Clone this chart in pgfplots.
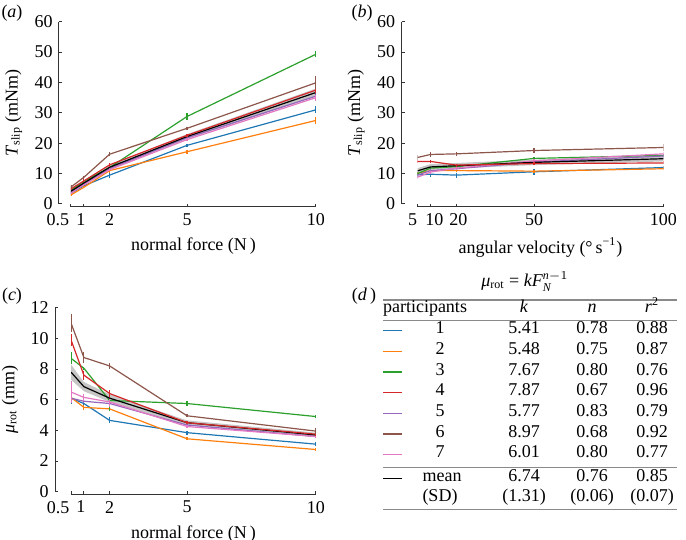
\documentclass[border=0pt]{standalone}
\usepackage{pgfplots}
\pgfplotsset{compat=1.18}
\usepackage{fontspec}
\setmainfont{Liberation Serif}
\definecolor{c1}{HTML}{1F77B4}
\definecolor{c2}{HTML}{FF7F0E}
\definecolor{c3}{HTML}{2CA02C}
\definecolor{c4}{HTML}{D62728}
\definecolor{c5}{HTML}{9467BD}
\definecolor{c6}{HTML}{8C564B}
\definecolor{c7}{HTML}{E377C2}
\definecolor{rulegray}{HTML}{8A8A8A}
\pgfplotsset{
  panel/.style={scale only axis, enlargelimits=false, axis lines*=left,
    axis line style={black!80, line width=0.5pt}, tick align=inside,
    major tick length=1.6pt, tick style={black!80, line width=0.5pt},
    axis x line shift=1.5pt,
    /pgf/number format/assume math mode=true,
    every tick label/.append style={font=\fontsize{9}{11}\selectfont},
    label style={font=\fontsize{9}{11}\selectfont}},
  part/.style={color=#1, line width=0.6pt, mark=none, error bars/.cd,
    y dir=both, y explicit, error mark=none, error bar style={line width=0.6pt}},
  meanl/.style={color=black, line width=0.6pt, mark=none},
  band/.style={fill=gray!45, draw=none},
}
\begin{document}
\fontsize{9}{11}\selectfont
\begin{tikzpicture}[x=1pt,y=1pt]
\path[use as bounding box] (0,0) rectangle (343,270);
% ---------------- (a)
\begin{axis}[panel, at={(35.5pt,168pt)}, anchor=south west,
  width=122.5pt, height=91.15pt, xmin=0.5, xmax=10, ymin=0, ymax=60,
  axis y line shift=6pt,
  xtick={0.5,1,2,5,10}, xticklabels={0.5\kern13pt,1\kern3pt,2,5,10},
  ytick={0,10,...,60},
  xlabel={normal force (N\,)},
  ylabel={\textit{T}\textsubscript{slip} (mNm)}]
\addplot[band] coordinates {(0.5,4.8)(1,7.5)(2,12.8)(5,23.0)(10,38.0)(10,35.4)(5,21.4)(2,11.4)(1,6.3)(0.5,3.6)} -- cycle;
\addplot[part=c1] coordinates {(0.5,3.5)+-(0,0.5) (1,6.0)+-(0,0.4) (2,9.5)+-(0,1.0) (5,19.3)+-(0,0.6) (10,31.0)+-(0,1.2)};
\addplot[part=c2] coordinates {(0.5,3.0)+-(0,0.4) (1,5.5)+-(0,0.4) (2,11.0)+-(0,0.8) (5,17.2)+-(0,0.6) (10,27.5)+-(0,1.2)};
\addplot[part=c3] coordinates {(0.5,4.5)+-(0,0.5) (1,7.5)+-(0,0.5) (2,12.0)+-(0,0.6) (5,28.8)+-(0,1.0) (10,49.3)+-(0,0.9)};
\addplot[part=c5] coordinates {(0.5,4.0)+-(0,0.4) (1,6.6)+-(0,0.4) (2,11.7)+-(0,0.5) (5,21.8)+-(0,0.6) (10,35.5)+-(0,1.0)};
\addplot[part=c7] coordinates {(0.5,3.6)+-(0,0.4) (1,6.3)+-(0,0.4) (2,11.3)+-(0,0.5) (5,21.2)+-(0,0.6) (10,35.0)+-(0,1.0)};
\addplot[meanl] coordinates {(0.5,4.2) (1,6.9) (2,12.1) (5,22.2) (10,36.7)};
\addplot[part=c4] coordinates {(0.5,5.0)+-(0,0.5) (1,7.6)+-(0,0.5) (2,12.9)+-(0,0.6) (5,22.6)+-(0,0.6) (10,37.5)+-(0,1.0)};
\addplot[part=c6] coordinates {(0.5,5.6)+-(0,0.5) (1,8.8)+-(0,0.5) (2,16.4)+-(0,0.6) (5,24.9)+-(0,0.6) (10,39.9)+-(0,2.2)};
\end{axis}
% ---------------- (b)
\begin{axis}[panel, at={(208.75pt,168pt)}, anchor=south west,
  width=123pt, height=91.15pt, xmin=5, xmax=100, ymin=0, ymax=60,
  axis y line shift=8pt,
  xtick={5,10,20,50,100}, xticklabels={5\kern5pt,\kern4pt10,\kern2pt20,50,100},
  ytick={0,10,...,60},
  xlabel={angular velocity (°\,s\textsuperscript{−1})},
  ylabel={\textit{T}\textsubscript{slip} (mNm)}]
\addplot[band] coordinates {(5,11.8)(10,13.1)(20,13.5)(50,14.6)(100,15.8)(100,14.0)(50,12.8)(20,11.7)(10,11.3)(5,10.0)} -- cycle;
\addplot[part=c1] coordinates {(5,9.6)+-(0,0.8) (10,9.8)+-(0,0.8) (20,9.5)+-(0,0.8) (50,10.6)+-(0,1.0) (100,12.0)+-(0,0.5)};
\addplot[part=c2] coordinates {(5,10.1)+-(0,0.5) (10,11.0)+-(0,0.5) (20,11.0)+-(0,0.5) (50,10.8)+-(0,0.5) (100,11.6)+-(0,0.5)};
\addplot[part=c3] coordinates {(5,10.0)+-(0,0.5) (10,11.8)+-(0,0.5) (20,12.3)+-(0,0.5) (50,15.0)+-(0,0.6) (100,16.0)+-(0,0.6)};
\addplot[part=c5] coordinates {(5,9.5)+-(0,0.5) (10,11.0)+-(0,0.5) (20,11.6)+-(0,0.5) (50,13.8)+-(0,0.5) (100,15.8)+-(0,0.5)};
\addplot[part=c7] coordinates {(5,8.8)+-(0,0.5) (10,10.5)+-(0,0.5) (20,11.8)+-(0,0.5) (50,14.2)+-(0,0.5) (100,16.5)+-(0,0.5)};
\addplot[meanl] coordinates {(5,10.9) (10,12.2) (20,12.6) (50,13.7) (100,14.9)};
\addplot[part=c4] coordinates {(5,14.0)+-(0,0.6) (10,14.0)+-(0,0.6) (20,12.8)+-(0,0.5) (50,13.3)+-(0,0.5) (100,13.5)+-(0,0.5)};
\addplot[part=c6] coordinates {(5,15.3)+-(0,0.8) (10,16.3)+-(0,0.8) (20,16.5)+-(0,0.6) (50,17.6)+-(0,0.8) (100,18.6)+-(0,1.0)};
\end{axis}
% ---------------- (c)
\begin{axis}[panel, at={(35.5pt,24.15pt)}, anchor=south west,
  width=122.5pt, height=92pt, xmin=0.5, xmax=10, ymin=0, ymax=12,
  axis y line shift=8pt,
  xtick={0.5,1,2,5,10}, xticklabels={0.5\kern13pt,1\kern3pt,2,5,10},
  ytick={0,2,...,12},
  xlabel={normal force (N\,)},
  ylabel={\textit{μ}\textsubscript{rot} (mm)}]
\addplot[band] coordinates {(0.5,8.3)(1,7.15)(2,6.35)(5,4.65)(10,3.85)(10,3.55)(5,4.35)(2,5.85)(1,6.55)(0.5,7.3)} -- cycle;
\addplot[part=c1] coordinates {(0.5,6.1)+-(0,0.4) (1,5.75)+-(0,0.2) (2,4.65)+-(0,0.2) (5,3.85)+-(0,0.12) (10,3.1)+-(0,0.12)};
\addplot[part=c2] coordinates {(0.5,6.15)+-(0,0.1) (1,5.5)+-(0,0.15) (2,5.4)+-(0,0.1) (5,3.45)+-(0,0.1) (10,2.75)+-(0,0.1)};
\addplot[part=c3] coordinates {(0.5,8.7)+-(0,0.4) (1,8.05)+-(0,0.1) (2,5.95)+-(0,0.7) (5,5.75)+-(0,0.15) (10,4.9)+-(0,0.1)};
\addplot[part=c5] coordinates {(0.5,6.1)+-(0,0.1) (1,5.9)+-(0,0.1) (2,5.75)+-(0,0.1) (5,4.35)+-(0,0.1) (10,3.6)+-(0,0.1)};
\addplot[part=c7] coordinates {(0.5,6.5)+-(0,0.7) (1,6.15)+-(0,0.25) (2,5.85)+-(0,0.3) (5,4.25)+-(0,0.1) (10,3.6)+-(0,0.1)};
\addplot[meanl] coordinates {(0.5,7.8) (1,6.85) (2,6.1) (5,4.5) (10,3.7)};
\addplot[part=c4] coordinates {(0.5,9.9)+-(0,0.4) (1,7.6)+-(0,0.3) (2,6.4)+-(0,0.2) (5,4.5)+-(0,0.1) (10,3.75)+-(0,0.15)};
\addplot[part=c6] coordinates {(0.5,11.0)+-(0,0.6) (1,8.75)+-(0,0.35) (2,8.2)+-(0,0.2) (5,4.95)+-(0,0.1) (10,3.95)+-(0,0.2)};
\end{axis}
% ---------------- panel letters
\node at (6,263.3) {(\textit{a})};
\node at (181,263.5) {(\textit{b})};
\node at (6,121.7) {(\textit{c})};
\node at (182,121.7) {(\textit{d}\,)};
% ---------------- (d) table
\node[anchor=base, inner sep=0pt] at (262.5,126.5) {\textit{μ}\textsubscript{rot} = $\mathit{kF}_{\mathit{N}}^{\mathit{n}-1}$};
\draw[rulegray, line width=0.6pt] (191.5,120) -- (338.5,120);
\draw[rulegray, line width=0.6pt] (191.5,109.65) -- (338.5,109.65);
\draw[rulegray, line width=0.6pt] (191.5,36.35) -- (338.5,36.35);
\draw[rulegray, line width=0.6pt] (191.5,15.35) -- (338.5,15.35);
\node[anchor=base] at (212.5,113.5) {participants};
\node[anchor=base] at (262,113.5) {\textit{k}};
\node[anchor=base] at (296,113.5) {\textit{n}};
\node[anchor=base] at (326,113.5) {\textit{r}\textsuperscript{2}};
\foreach \c/\i/\k/\n/\r/\yb/\yl in {
  c1/1/5.41/0.78/0.88/103.0/104.65,
  c2/2/5.48/0.75/0.87/92.68/94.33,
  c3/3/7.67/0.80/0.76/82.35/84.0,
  c4/4/7.87/0.67/0.96/72.03/73.68,
  c5/5/5.77/0.83/0.79/61.7/63.35,
  c6/6/8.97/0.68/0.92/51.38/53.03,
  c7/7/6.01/0.80/0.77/41.05/42.7}{
  \draw[\c, line width=0.6pt] (191.5,\yl) -- (201,\yl);
  \node[anchor=base] at (220,\yb) {\i};
  \node[anchor=base] at (262,\yb) {\k};
  \node[anchor=base] at (296,\yb) {\n};
  \node[anchor=base] at (326,\yb) {\r};
}
\draw[black, line width=0.6pt] (191.5,30.85) -- (201,30.85);
\node[anchor=base] at (221,29.2) {mean};
\node[anchor=base] at (262,29.2) {6.74};
\node[anchor=base] at (296,29.2) {0.76};
\node[anchor=base] at (326,29.2) {0.85};
\node[anchor=base] at (220,19.0) {(SD)};
\node[anchor=base] at (262,19.0) {(1.31)};
\node[anchor=base] at (296,19.0) {(0.06)};
\node[anchor=base] at (326,19.0) {(0.07)};
\end{tikzpicture}
\end{document}
